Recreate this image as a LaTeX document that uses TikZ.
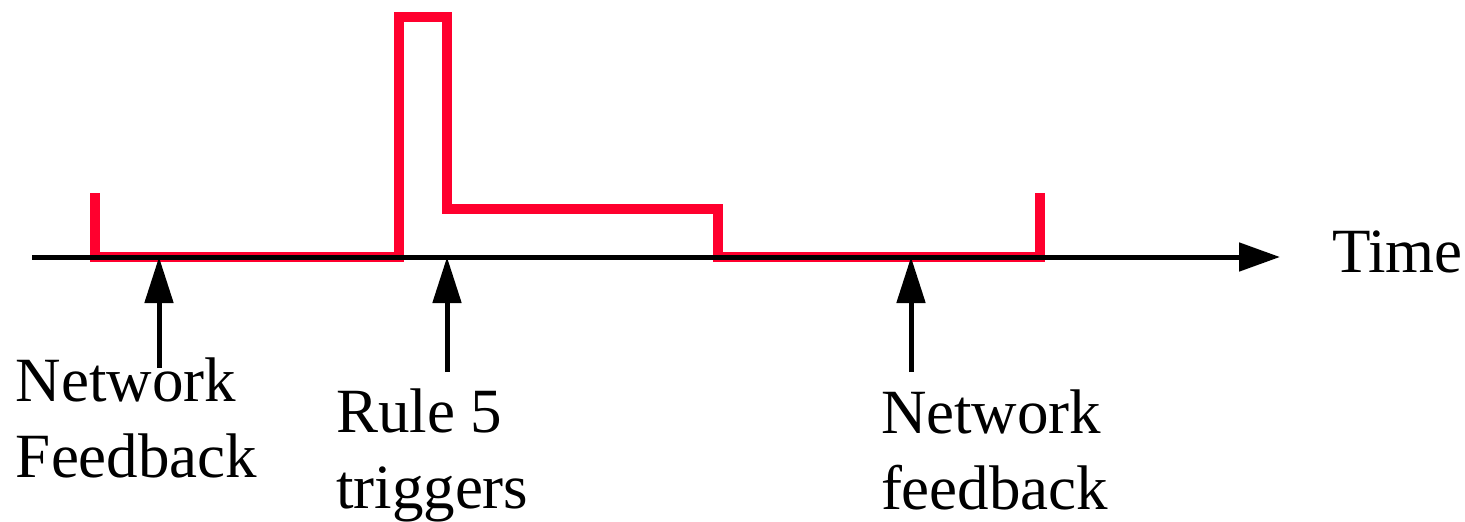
\documentclass[tikz,border=0pt]{standalone}
\usepackage{fontspec}
\setmainfont{Liberation Serif}
\usetikzlibrary{arrows.meta}
\definecolor{sigred}{RGB}{255,0,46}
\begin{document}
\begin{tikzpicture}[x=1pt,y=-1pt,
  lbl/.style={inner sep=0pt,outer sep=0pt,anchor=base west,align=left,
    font=\fontsize{63}{76}\selectfont},
  signal/.style={draw=sigred,line width=10pt,miter limit=10},
  axisline/.style={draw=black,line width=5pt,-{Triangle[length=41pt,width=28pt]}},
  marker/.style={draw=black,line width=5pt,-{Triangle[length=46pt,width=28pt]}}]
\useasboundingbox (0,0) rectangle (1465,522);
% signal
\draw[signal] (95,193) -- (95,257) -- (399,257) -- (399,17) -- (447,17) -- (447,209)
  -- (718,209) -- (718,257) -- (1040,257) -- (1040,193);
% axis
\coordinate (axs) at (32,257);
\coordinate (axe) at (1280,257);
\draw[axisline] (axs) -- (axe);
\node[lbl] (time) at (1332,272) {Time};
% markers
\coordinate (m1b) at (159,368); \coordinate (m1t) at (159,257);
\coordinate (m2b) at (447,372); \coordinate (m2t) at (447,257);
\coordinate (m3b) at (911,372); \coordinate (m3t) at (911,257);
\draw[marker] (m1b) -- (m1t);
\draw[marker] (m2b) -- (m2t);
\draw[marker] (m3b) -- (m3t);
% labels (base anchor = baseline of last line)
\node[lbl] (l1) at (16,477) {Network\\Feedback};
\node[lbl] (l2) at (336,508) {Rule 5\\triggers};
\node[lbl] (l3) at (881,509) {Network\\feedback};
\end{tikzpicture}
\end{document}
